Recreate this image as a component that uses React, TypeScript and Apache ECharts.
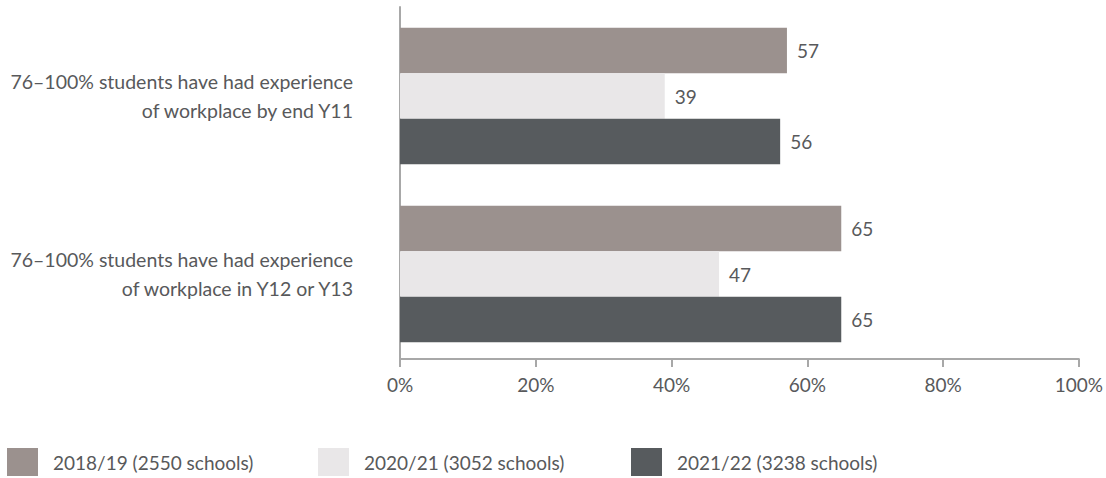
import React, { useEffect, useRef } from "react";
import * as echarts from "echarts";

const categories = [
  "76–100% students have had experience\nof workplace by end Y11",
  "76–100% students have had experience\nof workplace in Y12 or Y13",
];
const seriesNames = [
  "2018/19 (2550 schools)",
  "2020/21 (3052 schools)",
  "2021/22 (3238 schools)",
];
const values2018 = [57, 65];
const values2020 = [39, 47];
const values2021 = [56, 65];
const colors = ["#9b918e", "#e9e7e8", "#575b5e"];
const xTicks = [0, 20, 40, 60, 80, 100];

const FONT = "Lato, 'Open Sans', sans-serif";
const TEXT = "#58595b";

export default function App() {
  const ref = useRef<HTMLDivElement>(null);
  useEffect(() => {
    document.body.style.margin = "0";
    const chart = echarts.init(ref.current!, null, { renderer: "svg" });
    const data = [values2018, values2020, values2021];
    const legendLefts = [7, 318, 631];
    chart.setOption({
      animation: false,
      textStyle: { fontFamily: FONT },
      grid: { left: 400, right: 26, top: 7, bottom: 115, containLabel: false },
      legend: seriesNames.map((n, i) => ({
        data: [n],
        left: legendLefts[i],
        top: 448,
        padding: 0,
        itemWidth: 31,
        itemHeight: 28,
        icon: "rect",
        itemGap: 0,
        selectedMode: false,
        textStyle: {
          fontSize: 19,
          lineHeight: 20,
          color: TEXT,
          fontFamily: FONT,
          padding: [0, 0, 0, 10],
        },
      })),
      xAxis: {
        type: "value",
        min: xTicks[0],
        max: xTicks[xTicks.length - 1],
        interval: 20,
        offset: -4,
        axisLine: { show: true, lineStyle: { color: "#a8a8a8", width: 2 } },
        axisTick: { show: true, length: 8, lineStyle: { color: "#a8a8a8", width: 2 } },
        splitLine: { show: false },
        axisLabel: {
          formatter: "{value}%",
          margin: 16,
          fontSize: 19,
          color: TEXT,
          fontFamily: FONT,
        },
      },
      yAxis: {
        type: "category",
        inverse: true,
        data: categories,
        axisLine: { show: true, lineStyle: { color: "#a8a8a8", width: 2 } },
        axisTick: { show: false },
        axisLabel: {
          margin: 47,
          fontSize: 19.5,
          lineHeight: 29,
          color: TEXT,
          align: "right",
          fontFamily: FONT,
        },
      },
      series: seriesNames.map((n, i) => ({
        name: n,
        type: "bar",
        data: data[i],
        barWidth: 45.5,
        barGap: "0%",
        itemStyle: { color: colors[i] },
        label: {
          show: true,
          position: "right",
          distance: 10,
          fontSize: 19,
          color: TEXT,
          fontFamily: FONT,
        },
      })),
    });
    return () => chart.dispose();
  }, []);
  return <div ref={ref} style={{ width: 1106, height: 478 }} />;
}
